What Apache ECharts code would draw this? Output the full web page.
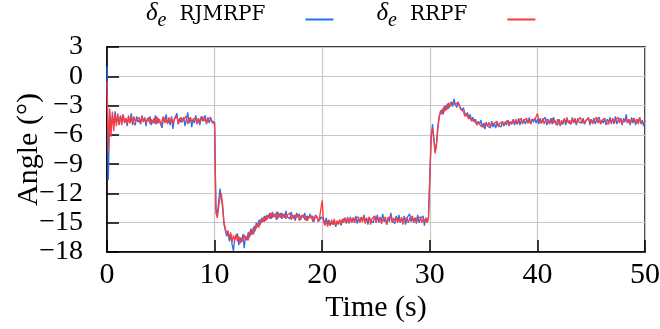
<!DOCTYPE html>
<html>
<head>
<meta charset="utf-8">
<script src="https://cdn.jsdelivr.net/npm/echarts@6/dist/echarts.min.js"></script>
<style>html,body{margin:0;padding:0;background:#fff}#c{width:660px;height:329px}</style>
</head>
<body>
<div id="c"></div>
<script>
const dt = 0.125;
const xTicks = [0, 10, 20, 30, 40, 50];
const yTicks = [-18, -15, -12, -9, -6, -3, 0, 3];
const seriesNames = ['RJMRPF', 'RRPF'];
// one row = one second (8 samples)
const rjmrpf = [
1.0,-10.6,-3.8,-5.1,-4.1,-4.9,-3.6,-4.7,
-4.2,-5.0,-4.0,-4.6,-3.9,-4.8,-4.3,-5.1,
-4.2,-4.8,-3.8,-4.6,-4.4,-5.0,-4.1,-4.7,
-4.4,-4.9,-4.0,-4.7,-4.2,-5.1,-4.3,-4.6,
-4.1,-5.0,-4.5,-4.8,-4.0,-4.9,-4.3,-4.6,
-4.4,-5.3,-4.2,-4.7,-3.9,-4.8,-4.5,-5.0,
-4.1,-5.4,-4.4,-4.6,-3.8,-4.9,-4.3,-4.7,
-4.9,-4.2,-5.1,-4.4,-3.7,-4.8,-4.2,-5.2,
-4.4,-4.8,-4.0,-4.9,-4.3,-5.0,-4.1,-4.6,
-4.5,-4.0,-4.9,-4.2,-4.8,-4.3,-4.6,-4.4,
-4.7,-13.6,-14.2,-12.8,-11.5,-11.3,-13.5,-15.2,
-15.8,-16.4,-16.0,-16.9,-16.3,-17.2,-17.9,-16.6,
-16.8,-16.1,-17.3,-16.5,-17.0,-16.2,-17.6,-16.4,
-16.8,-16.0,-16.5,-15.6,-16.2,-15.4,-15.9,-15.0,
-15.4,-14.7,-15.2,-14.5,-14.9,-14.3,-14.8,-14.2,
-14.5,-14.0,-14.6,-13.9,-14.4,-14.1,-14.7,-13.9,
-14.3,-14.0,-14.6,-14.1,-14.5,-13.8,-14.4,-14.2,
-14.6,-13.9,-14.5,-14.2,-14.8,-14.0,-14.4,-14.1,
-14.7,-14.2,-14.5,-14.0,-14.8,-14.3,-14.6,-14.1,
-14.6,-14.3,-14.9,-14.2,-14.5,-14.3,-14.8,-14.4,
-14.5,-14.7,-15.0,-14.5,-15.1,-14.7,-15.3,-14.9,
-15.2,-14.8,-15.4,-14.9,-15.2,-14.7,-15.3,-14.8,
-15.0,-14.5,-15.1,-14.6,-14.9,-14.4,-15.0,-14.5,
-14.8,-14.3,-15.1,-14.6,-14.9,-14.4,-14.8,-14.2,
-14.9,-14.5,-15.2,-14.4,-14.8,-14.6,-15.0,-14.3,
-14.7,-14.2,-15.0,-14.5,-14.8,-14.1,-14.9,-14.6,
-15.2,-14.4,-14.9,-14.0,-14.7,-14.5,-15.1,-14.3,
-14.8,-14.2,-15.0,-14.6,-14.9,-14.3,-15.2,-14.5,
-14.7,-14.1,-14.9,-14.4,-15.0,-14.5,-14.8,-14.2,
-15.0,-14.6,-14.8,-14.3,-15.3,-14.5,-14.9,-14.4,
-14.6,-6.5,-4.9,-6.3,-7.7,-6.8,-5.0,-4.1,
-3.7,-3.4,-3.9,-3.0,-3.5,-2.8,-3.3,-2.9,
-2.6,-3.1,-2.3,-2.9,-3.2,-2.6,-3.0,-2.8,
-3.5,-3.2,-3.8,-4.1,-3.7,-4.3,-3.9,-4.5,
-4.2,-4.7,-4.4,-5.0,-4.6,-4.9,-4.5,-5.2,
-4.8,-5.4,-4.7,-5.1,-4.9,-5.3,-4.6,-5.2,
-4.8,-5.3,-4.7,-5.0,-4.9,-5.2,-4.6,-5.1,
-4.7,-5.0,-4.5,-5.1,-4.6,-4.9,-4.4,-5.0,
-4.6,-4.9,-4.3,-5.0,-4.5,-4.8,-4.4,-4.9,
-4.5,-4.8,-4.2,-4.9,-4.4,-4.7,-4.3,-4.8,
-4.4,-4.9,-4.3,-4.8,-4.5,-4.7,-4.2,-5.0,
-4.5,-4.8,-4.3,-4.9,-4.2,-4.7,-4.5,-5.0,
-4.4,-4.8,-4.6,-4.9,-4.3,-5.0,-4.4,-4.7,
-4.5,-4.9,-4.2,-4.8,-4.4,-5.0,-4.3,-4.7,
-4.5,-4.8,-4.3,-4.9,-4.6,-4.7,-4.2,-5.0,
-4.4,-4.8,-4.3,-4.9,-4.5,-4.7,-4.2,-4.9,
-4.5,-4.8,-4.3,-5.0,-4.4,-4.7,-4.2,-4.9,
-4.4,-4.8,-4.1,-4.9,-4.5,-4.7,-4.3,-5.0,
-4.3,-4.7,-3.9,-4.8,-4.4,-5.0,-4.2,-4.8,
-4.3,-5.0,-4.4,-4.8,-4.2,-4.9,-4.5,-5.1,
-4.5
];
const rrpf = [
-0.5,-7.8,-3.3,-6.2,-3.6,-5.6,-3.9,-5.1,
-3.8,-4.9,-4.1,-5.0,-3.9,-4.7,-4.3,-4.9,
-4.0,-4.8,-4.2,-5.0,-4.1,-4.7,-4.4,-4.6,
-4.2,-4.9,-4.1,-4.6,-4.3,-4.8,-4.5,-4.2,
-4.9,-4.4,-4.7,-4.3,-4.9,-4.1,-4.8,-4.4,
-5.0,-4.5,-4.1,-4.8,-4.4,-4.9,-4.2,-4.7,
-4.3,-4.9,-4.4,-4.6,-4.1,-4.9,-4.5,-4.2,
-4.7,-4.4,-4.6,-4.1,-4.9,-4.5,-4.2,-4.7,
-4.4,-4.6,-4.2,-4.9,-4.3,-4.7,-4.5,-4.1,
-4.6,-4.3,-4.8,-4.4,-4.6,-4.2,-4.7,-4.5,
-4.9,-14.0,-14.5,-13.4,-12.4,-12.0,-13.2,-15.0,
-15.6,-16.1,-15.8,-16.6,-16.0,-17.0,-16.3,-16.8,
-16.2,-16.9,-16.4,-17.1,-16.6,-16.9,-16.2,-16.7,
-16.4,-16.8,-15.9,-16.3,-15.7,-16.2,-15.3,-15.6,
-15.1,-15.5,-14.7,-15.0,-14.5,-14.9,-14.3,-14.7,
-14.2,-14.6,-14.0,-14.5,-14.1,-14.4,-13.9,-14.6,
-14.2,-14.5,-14.0,-14.4,-14.1,-14.6,-14.2,-14.3,
-14.0,-14.7,-14.3,-14.6,-14.2,-14.5,-14.1,-14.8,
-14.4,-14.6,-14.2,-14.7,-14.3,-14.8,-14.4,-14.6,
-14.3,-14.9,-14.5,-14.7,-14.3,-14.9,-14.5,-14.6,
-12.7,-14.9,-15.3,-14.8,-15.4,-14.9,-15.3,-14.7,
-15.1,-14.6,-15.4,-14.8,-15.1,-14.7,-15.2,-14.6,
-15.0,-14.5,-14.9,-14.4,-15.1,-14.6,-14.9,-14.5,
-15.0,-14.6,-14.8,-14.4,-15.0,-14.5,-14.9,-14.3,
-15.1,-14.6,-14.9,-14.4,-15.2,-14.6,-14.8,-14.3,
-15.0,-14.5,-14.8,-14.4,-15.1,-14.7,-14.9,-14.4,
-15.2,-14.6,-14.8,-14.3,-15.0,-14.5,-14.8,-14.4,
-15.0,-14.6,-14.9,-14.4,-15.2,-14.7,-14.8,-14.5,
-15.0,-14.6,-14.8,-14.3,-14.9,-14.5,-15.1,-14.6,
-14.8,-14.4,-15.0,-14.6,-14.9,-14.5,-15.0,-14.6,
-14.8,-6.0,-5.3,-6.6,-7.9,-7.0,-5.4,-4.2,
-3.5,-3.9,-3.2,-3.6,-3.0,-3.4,-2.7,-3.1,
-3.2,-2.7,-2.5,-2.9,-3.1,-2.7,-2.9,-3.4,
-3.2,-3.6,-4.1,-3.8,-3.9,-4.4,-4.1,-4.6,
-4.8,-4.4,-4.5,-5.0,-4.7,-4.8,-5.1,-4.9,
-5.2,-4.8,-4.9,-5.1,-4.7,-5.2,-4.9,-5.1,
-4.8,-5.0,-4.6,-5.2,-4.8,-5.0,-4.7,-5.1,
-4.7,-4.9,-4.5,-5.0,-4.6,-4.9,-4.5,-4.8,
-4.4,-4.9,-4.6,-4.8,-4.3,-4.9,-4.5,-4.7,
-4.3,-4.8,-4.5,-4.9,-4.4,-4.6,-4.5,-4.7,
-3.8,-4.6,-4.4,-4.8,-4.3,-4.9,-4.5,-4.6,
-4.4,-4.9,-4.6,-4.3,-4.8,-4.5,-5.0,-4.4,
-4.7,-5.1,-4.5,-4.8,-4.4,-4.7,-4.2,-4.8,
-4.5,-4.9,-4.4,-4.7,-4.3,-4.9,-4.5,-4.7,
-4.2,-4.8,-4.4,-4.9,-4.5,-4.7,-4.3,-4.8,
-4.4,-4.9,-4.5,-4.7,-4.2,-4.8,-4.4,-4.9,
-4.5,-4.7,-4.3,-4.8,-4.6,-4.9,-4.4,-4.7,
-4.3,-4.9,-4.5,-4.7,-4.2,-4.8,-4.4,-4.9,
-4.5,-4.7,-4.3,-4.8,-4.4,-4.9,-4.5,-4.7,
-4.3,-4.8,-4.4,-4.9,-4.2,-4.7,-4.5,-4.8,
-4.6
];
const pairs = arr => arr.map((v, i) => [i * dt, v]);
const FONT = 'Liberation Serif';
const chart = echarts.init(document.getElementById('c'), null, {renderer: 'canvas'});
chart.setOption({
  animation: false,
  backgroundColor: '#fff',
  color: ['#2670f0', '#ff3a3a'],
  grid: {left: 107, right: 15, top: 47, bottom: 77, containLabel: false, outerBoundsMode: 'none',
    show: true, borderColor: '#000', borderWidth: 1.5, backgroundColor: 'transparent'},
  legend: {
    top: 1, left: 146, padding: 0, align: 'right', itemWidth: 28, itemHeight: 2, icon: 'rect', itemGap: 43,
    data: seriesNames.map(n => ({name: n})),
    formatter: n => '{d|δ}{s|e}{n|' + n + '}',
    textStyle: {
      padding: [0, 35, 0, 0],
      rich: {
        d: {fontFamily: FONT, fontStyle: 'italic', fontSize: 25, lineHeight: 25, color: '#000', verticalAlign: 'bottom', padding: [0, 0, 6, 0]},
        s: {fontFamily: FONT, fontStyle: 'italic', fontSize: 20, lineHeight: 20, color: '#000', verticalAlign: 'bottom', padding: [0, 13, 1, 0]},
        n: {fontFamily: 'DejaVu Serif', fontSize: 20, lineHeight: 20, color: '#000', verticalAlign: 'bottom', padding: [0, 0, 7, 0]}
      }
    }
  },
  xAxis: {
    type: 'value', min: xTicks[0], max: xTicks[xTicks.length - 1], interval: 10,
    name: 'Time (s)', nameLocation: 'middle', nameGap: 41, nameMoveOverlap: false,
    nameTextStyle: {fontFamily: FONT, fontSize: 30, color: '#000'},
    axisLine: {show: true, onZero: false, lineStyle: {color: '#000', width: 1.5}},
    axisTick: {show: true, inside: true, length: 12, lineStyle: {color: '#000', width: 1.5}},
    axisLabel: {fontFamily: FONT, fontSize: 30, color: '#000', margin: 8, showMinLabel: true, showMaxLabel: true, hideOverlap: false},
    splitLine: {show: true, lineStyle: {color: '#c8c8c8', width: 1.2}}
  },
  yAxis: {
    type: 'value', min: yTicks[0], max: yTicks[yTicks.length - 1], interval: 3,
    name: 'Angle (°)', nameLocation: 'middle', nameGap: 63, nameRotate: 90, nameMoveOverlap: false,
    nameTextStyle: {fontFamily: FONT, fontSize: 30, color: '#000'},
    axisLine: {show: true, onZero: false, lineStyle: {color: '#000', width: 1.5}},
    axisTick: {show: true, inside: true, length: 12, lineStyle: {color: '#000', width: 1.5}},
    axisLabel: {fontFamily: FONT, fontSize: 28, color: '#000', margin: 24, showMinLabel: true, showMaxLabel: true, hideOverlap: false,
      formatter: v => (v < 0 ? '\u2212' + Math.abs(v) : String(v))},
    splitLine: {show: true, lineStyle: {color: '#c8c8c8', width: 1.2}}
  },
  series: [
    {name: seriesNames[0], type: 'line', data: pairs(rjmrpf), showSymbol: false, lineStyle: {width: 1.3}, z: 2},
    {name: seriesNames[1], type: 'line', data: pairs(rrpf), showSymbol: false, lineStyle: {width: 1.3}, z: 3}
  ]
});
</script>
</body>
</html>
